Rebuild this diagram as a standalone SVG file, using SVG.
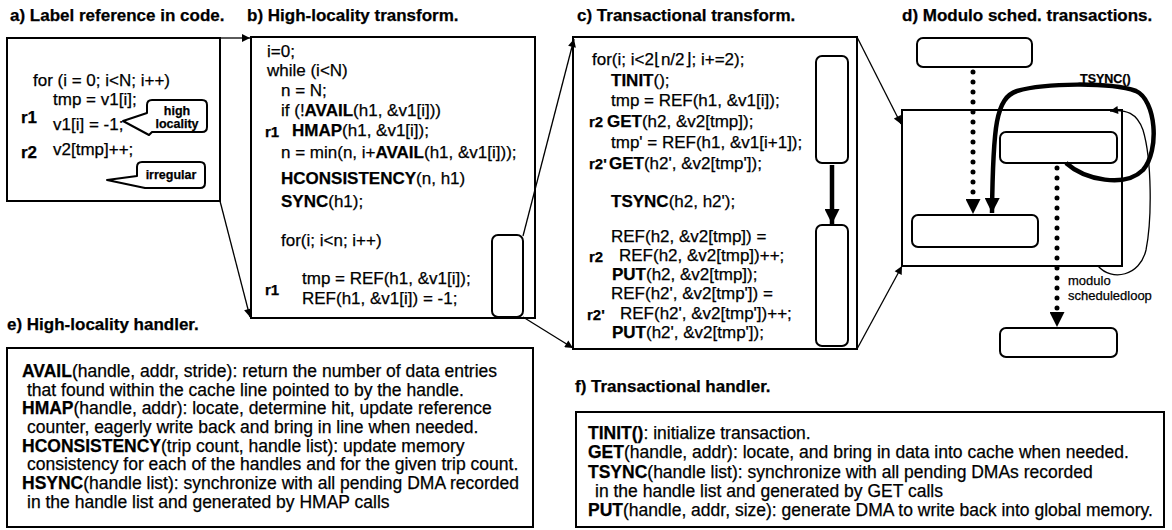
<svg xmlns="http://www.w3.org/2000/svg" width="1172" height="530" viewBox="0 0 1172 530">
<defs>
<style>
text { font-family: "Liberation Sans", Arial, sans-serif; fill: #000; stroke: #000; stroke-width: 0.25px; }
.t { font-size: 17px; font-weight: bold; }
.c { font-size: 17px; }
.h { font-size: 17.5px; }
.b { font-weight: bold; }
.r { font-size: 15px; font-weight: bold; }
.lbl { font-size: 12.5px; font-weight: bold; }
.sm { font-size: 13px; }
.box { fill: none; stroke: #000; stroke-width: 2; }
.rr { fill: #fff; stroke: #000; stroke-width: 2; }
.conn { fill: none; stroke: #000; stroke-width: 1.3; marker-end: url(#ah); }
.thick { fill: none; stroke: #000; stroke-width: 4.5; marker-end: url(#ahb); }
.head { fill: none; stroke: #000; stroke-width: 0; marker-end: url(#ahb); }
.dot { fill: none; stroke: #000; stroke-width: 5; stroke-linecap: round; stroke-dasharray: 0 10; }
.bub { fill: #fff; stroke: #000; stroke-width: 2; stroke-linejoin: round; }
</style>
<marker id="ah" viewBox="0 0 10 10" refX="10" refY="5" markerWidth="9" markerHeight="8" orient="auto" markerUnits="userSpaceOnUse">
<path d="M0,0 L10,5 L0,10 z" fill="#000"/>
</marker>
<marker id="ahb" viewBox="0 0 10 10" refX="10" refY="5" markerWidth="15" markerHeight="15" orient="auto" markerUnits="userSpaceOnUse">
<path d="M0,0 L10,5 L0,10 z" fill="#000"/>
</marker>
</defs>
<rect width="1172" height="530" fill="#fff"/>

<g id="panel-a">
<text class="t" x="10" y="21">a) Label reference in code.</text>
<rect class="box" x="7" y="38" width="213" height="163"/>
<text class="c" x="33" y="86">for (i = 0; i&lt;N; i++)</text>
<text class="c" x="53" y="105">tmp = v1[i];</text>
<text class="c b" x="21" y="123">r1</text>
<text class="c" x="53" y="130">v1[i] = -1;</text>
<text class="c b" x="21" y="158">r2</text>
<text class="c" x="53" y="155">v2[tmp]++;</text>
</g>

<g id="callout-high-locality">
<path class="bub" d="M152,100 H202 Q207,100 207,105 V127 Q207,132 202,132 H152 L149,135 L123,121 L147,113 V105 Q147,100 152,100 Z"/>
<text class="lbl" x="177" y="115" text-anchor="middle">high</text>
<text class="lbl" x="177" y="128" text-anchor="middle">locality</text>
</g>

<g id="callout-irregular">
<path class="bub" d="M142,162 H200 Q205,162 205,167 V183 Q205,188 200,188 H145 L107,180 L137,176 V167 Q137,162 142,162 Z"/>
<text class="lbl" x="171" y="179" text-anchor="middle">irregular</text>
</g>

<g id="panel-b">
<text class="t" x="247" y="21">b) High-locality transform.</text>
<rect class="box" x="251" y="37" width="284" height="281"/>
<text class="c" x="267" y="57">i=0;</text>
<text class="c" x="267" y="76">while (i&lt;N)</text>
<text class="c" x="281" y="96">n = N;</text>
<text class="c" x="281" y="116">if (!<tspan class="b">AVAIL</tspan>(h1, &amp;v1[i]))</text>
<text class="r" x="265" y="137">r1</text>
<text class="c" x="292" y="136"><tspan class="b">HMAP</tspan>(h1, &amp;v1[i]);</text>
<text class="c" x="281" y="158">n = min(n, i+<tspan class="b">AVAIL</tspan>(h1, &amp;v1[i]));</text>
<text class="c" x="281" y="184"><tspan class="b">HCONSISTENCY</tspan>(n, h1)</text>
<text class="c" x="281" y="207"><tspan class="b">SYNC</tspan>(h1);</text>
<text class="c" x="281" y="246">for(i; i&lt;n; i++)</text>
<text class="r" x="265" y="295">r1</text>
<text class="c" x="302" y="284">tmp = REF(h1, &amp;v1[i]);</text>
<text class="c" x="302" y="304">REF(h1, &amp;v1[i]) = -1;</text>
<rect class="rr" x="492" y="235" width="31" height="82" rx="6"/>
</g>

<g id="panel-c">
<text class="t" x="577" y="21">c) Transactional transform.</text>
<rect class="box" x="573" y="37" width="284" height="312"/>
<text class="c" x="592" y="65">for(i; i&lt;2⌊n/2⌋; i+=2);</text>
<text class="c" x="611" y="86"><tspan class="b">TINIT</tspan>();</text>
<text class="c" x="611" y="106">tmp = REF(h1, &amp;v1[i]);</text>
<text class="r" x="589" y="127">r2</text>
<text class="c" x="607" y="127"><tspan class="b">GET</tspan>(h2, &amp;v2[tmp]);</text>
<text class="c" x="611" y="148">tmp' = REF(h1, &amp;v1[i+1]);</text>
<text class="r" x="589" y="169">r2'</text>
<text class="c" x="609" y="169"><tspan class="b">GET</tspan>(h2', &amp;v2[tmp']);</text>
<text class="c" x="611" y="207"><tspan class="b">TSYNC</tspan>(h2, h2');</text>
<text class="c" x="611" y="242">REF(h2, &amp;v2[tmp]) =</text>
<text class="r" x="589" y="262">r2</text>
<text class="c" x="619" y="261">REF(h2, &amp;v2[tmp])++;</text>
<text class="c" x="612" y="280"><tspan class="b">PUT</tspan>(h2, &amp;v2[tmp]);</text>
<text class="c" x="611" y="299">REF(h2', &amp;v2[tmp']) =</text>
<text class="r" x="587" y="320">r2'</text>
<text class="c" x="620" y="319">REF(h2', &amp;v2[tmp'])++;</text>
<text class="c" x="612" y="338"><tspan class="b">PUT</tspan>(h2', &amp;v2[tmp']);</text>
<rect class="rr" x="816" y="56" width="32" height="107" rx="6"/>
<rect class="rr" x="816" y="225" width="32" height="121" rx="6"/>
</g>

<g id="panel-d">
<text class="t" x="902" y="21">d) Modulo sched. transactions.</text>
<rect class="box" x="902" y="110" width="220" height="156"/>
<rect class="rr" x="917" y="38" width="115" height="29" rx="6"/>
<rect class="rr" x="1000" y="132" width="117" height="31" rx="6"/>
<rect class="rr" x="912" y="215" width="126" height="32" rx="6"/>
<rect class="rr" x="1000" y="328" width="117" height="29" rx="6"/>
<text class="lbl" x="1080" y="83">TSYNC()</text>
<text class="sm" x="1068" y="285">modulo</text>
<text class="sm" x="1068" y="300">scheduledloop</text>
</g>

<g id="connectors">
<path class="conn" d="M220,38 H250"/>
<path class="conn" d="M220,201 L250,317"/>
<path class="conn" d="M523,236 L574,39"/>
<path class="conn" d="M523,317 L573,348"/>
<path class="conn" d="M857,37 L901,124"/>
<path class="conn" d="M857,349 L902,266"/>
<path class="thick" d="M832,165 V224"/>
<path class="dot" d="M973,72 V200"/>
<path class="head" d="M973,199 V214"/>
<path class="dot" d="M1057,168 V312"/>
<path class="head" d="M1057,312 V327"/>
<path class="thick" d="M1066,163 C1085,180 1125,188 1143,170 C1160,150 1156,100 1136,91 C1110,82 1045,83 1017,91 C996,98 993,125 992,213"/>
<path class="conn" d="M1098,266 C1112,282 1140,276 1146,250 C1152,220 1152,160 1143,130 C1137,113 1126,109 1110,111"/>
</g>

<g id="panel-e">
<text class="t" x="7" y="330">e) High-locality handler.</text>
<rect class="box" x="7" y="348" width="526" height="179"/>
<text class="h" x="22" y="377"><tspan class="b">AVAIL</tspan>(handle, addr, stride): return the number of data entries</text>
<text class="h" x="27" y="396">that found within the cache line pointed to by the handle.</text>
<text class="h" x="22" y="414"><tspan class="b">HMAP</tspan>(handle, addr): locate, determine hit, update reference</text>
<text class="h" x="27" y="433">counter, eagerly write back and bring in line when needed.</text>
<text class="h" x="22" y="452"><tspan class="b">HCONSISTENCY</tspan>(trip count, handle list): update memory</text>
<text class="h" x="27" y="470">consistency for each of the handles and for the given trip count.</text>
<text class="h" x="22" y="489"><tspan class="b">HSYNC</tspan>(handle list): synchronize with all pending DMA recorded</text>
<text class="h" x="27" y="508">in the handle list and generated by HMAP calls</text>
</g>

<g id="panel-f">
<text class="t" x="575" y="392">f) Transactional handler.</text>
<rect class="box" x="576" y="412" width="588" height="115"/>
<text class="h" x="588" y="439"><tspan class="b">TINIT()</tspan>: initialize transaction.</text>
<text class="h" x="588" y="458"><tspan class="b">GET</tspan>(handle, addr): locate, and bring in data into cache when needed.</text>
<text class="h" x="588" y="478"><tspan class="b">TSYNC</tspan>(handle list): synchronize with all pending DMAs recorded</text>
<text class="h" x="595" y="497">in the handle list and generated by GET calls</text>
<text class="h" x="588" y="516"><tspan class="b">PUT</tspan>(handle, addr, size): generate DMA to write back into global memory.</text>
</g>
</svg>
